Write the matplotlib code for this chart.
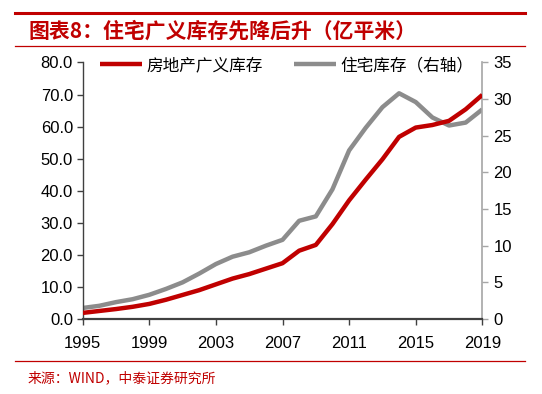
import matplotlib
matplotlib.use("Agg")
import matplotlib.pyplot as plt
from matplotlib.lines import Line2D

# 数据（亿平米）
years = list(range(1995, 2020))
broad_inventory = [1.9, 2.5, 3.1, 3.8, 4.7, 6.0, 7.5, 9.0, 10.8, 12.6,
                   14.0, 15.7, 17.4, 21.3, 23.1, 29.6, 37.0, 43.5, 49.8, 56.8,
                   59.7, 60.5, 61.8, 65.4, 69.9]
housing_inventory = [1.5, 1.8, 2.3, 2.7, 3.3, 4.1, 5.0, 6.2, 7.5, 8.5,
                     9.1, 10.0, 10.8, 13.4, 14.0, 17.7, 23.0, 26.1, 28.9, 30.8,
                     29.6, 27.5, 26.4, 26.8, 28.6]
xticks = [1995, 1999, 2003, 2007, 2011, 2015, 2019]
left_ticks = [0, 10, 20, 30, 40, 50, 60, 70, 80]
right_ticks = [0, 5, 10, 15, 20, 25, 30, 35]

RED = "#C00000"
GRAY = "#8C8C8C"
CJK = ["Noto Sans CJK SC", "DejaVu Sans"]

plt.rcParams["font.family"] = ["Liberation Sans", "Noto Sans CJK SC", "DejaVu Sans"]

fig = plt.figure(figsize=(5.42, 3.94), dpi=100)
ax = fig.add_axes([0.1526, 0.1904, 0.7373, 0.651])
ax2 = ax.twinx()

l1, = ax.plot(years, broad_inventory, color=RED, lw=3.2,
              solid_joinstyle="round", solid_capstyle="butt", label="房地产广义库存", zorder=3)
l2, = ax2.plot(years, housing_inventory, color=GRAY, lw=3.2,
               solid_joinstyle="round", solid_capstyle="butt", label="住宅库存（右轴）", zorder=2)

ax.set_xlim(1995, 2019)
ax.set_ylim(0, 80)
ax2.set_ylim(0, 35)
ax.set_xticks(xticks)
ax.set_yticks(left_ticks)
ax.set_yticklabels([f"{v:.1f}" for v in left_ticks])
ax2.set_yticks(right_ticks)

for s in ["top", "right"]:
    ax.spines[s].set_visible(False)
ax2.spines["top"].set_visible(False)
ax2.spines["left"].set_visible(False)
ax2.spines["bottom"].set_visible(False)
ax.spines["left"].set_color("#404040")
ax.spines["left"].set_linewidth(1.0)
ax.spines["bottom"].set_color("#404040")
ax.spines["bottom"].set_linewidth(1.6)
ax2.spines["right"].set_color("#A6A6A6")
ax2.spines["right"].set_linewidth(1.2)

ax.tick_params(axis="both", direction="out", length=4, width=1, color="#404040",
               labelsize=12, pad=3)
ax.tick_params(axis="x", pad=8)
ax2.tick_params(axis="y", direction="out", length=4, width=1, color="#A6A6A6",
                labelsize=12, pad=4)

# 让红线在灰线之上
ax.set_zorder(ax2.get_zorder() + 1)
ax.patch.set_visible(False)

fig.legend(handles=[l1, l2], loc="center", bbox_to_anchor=(0.529, 0.833),
           ncol=2, frameon=False, handlelength=2.5, handletextpad=0.25,
           columnspacing=1.9, prop={"family": CJK, "size": 12})

# 标题与来源
fig.add_artist(Line2D([0.027, 0.969], [1 - 12.8 / 394] * 2, color=RED, lw=2.2))
fig.text(0.052, 1 - 31 / 394, "图表8：住宅广义库存先降后升（亿平米）", color=RED,
         fontsize=15, fontweight="bold", family=CJK, va="center", ha="left", style="italic")
fig.add_artist(Line2D([0.027, 0.969], [1 - 46 / 394] * 2, color=RED, lw=0.9))
fig.add_artist(Line2D([0.027, 0.969], [1 - 360.5 / 394] * 2, color=RED, lw=0.9))
fig.text(0.05, 1 - 377.8 / 394, "来源：WIND，中泰证券研究所", color=RED,
         fontsize=10, family=CJK, va="center", ha="left")

fig.savefig("out.png", dpi=100)
